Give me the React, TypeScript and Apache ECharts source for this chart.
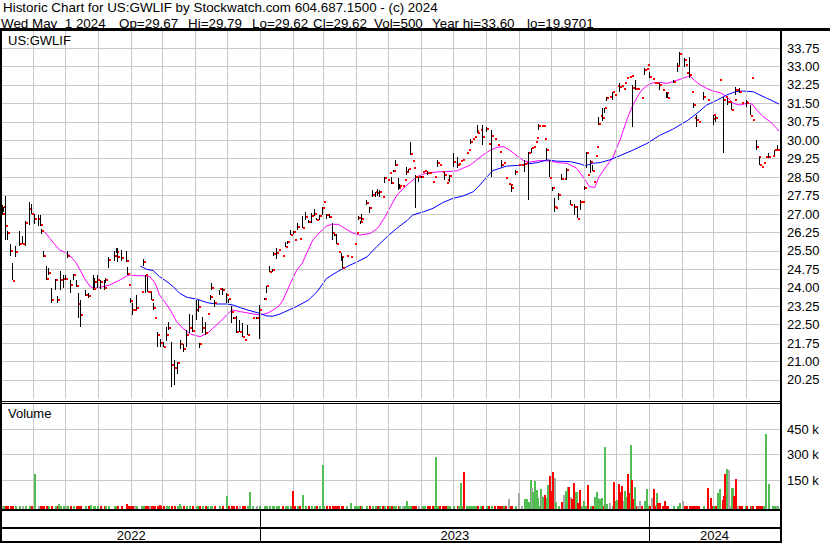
import React, { useEffect, useRef } from "react";
import * as echarts from "echarts";

// ---------- data ----------
const START_DATE = "2022-05-03"; // day 0 of the x scale
const END_DAY = 731; // 2024-05-03

const TITLE_LINE = "Historic Chart for US:GWLIF by Stockwatch.com 604.687.1500 - (c) 2024";
const QUOTE_FIELDS = [
  "Wed May\u00a0\u00a01 2024",
  "Op=29.67",
  "Hi=29.79",
  "Lo=29.62",
  "Cl=29.62",
  "Vol=500",
  "Year hi=33.60",
  "lo=19.9701",
];
const TICKER = "US:GWLIF";
const VOLUME_TITLE = "Volume";
const YEARS = ["2022", "2023", "2024"];
const YEAR_STARTS = ["2023-01-01", "2024-01-01"];
const MONTH_STARTS = [
  "2022-06-01", "2022-07-01", "2022-08-01", "2022-09-01", "2022-10-01", "2022-11-01", "2022-12-01",
  "2023-01-01", "2023-02-01", "2023-03-01", "2023-04-01", "2023-05-01", "2023-06-01", "2023-07-01",
  "2023-08-01", "2023-09-01", "2023-10-01", "2023-11-01", "2023-12-01", "2024-01-01", "2024-02-01",
  "2024-03-01", "2024-04-01",
];
const VOLUME_TICKS = [150, 300, 450]; // thousands of shares

// [day, high, low, close, volume (hundreds of shares)]
const ohlc: number[][] = [
  [1, 27.35, 26.95, 27.0, 9], [2, 27.3, 27.1, 27.3, 6], [4, 27.73, 25.94, 26.5, 12], [6, 26.3, 25.94, 26.24, 7],
  [8, 25.8, 25.3, 25.5, 10], [10, 25.0, 24.3, 24.29, 8], [13, 25.7, 25.27, 25.47, 11], [17, 26.3, 25.7, 25.8, 6],
  [20, 26.1, 25.8, 25.8, 9], [23, 26.7, 25.7, 26.62, 13], [26, 27.5, 26.55, 27.2, 8], [28, 27.4, 27.0, 27.0, 10],
  [31, 27.0, 26.6, 26.8, 7], [35, 26.95, 26.5, 26.8, 9], [37, 26.95, 26.5, 26.55, 12], [38, 26.4, 26.2, 26.3, 6],
  [39, 25.5, 25.25, 25.3, 10], [42, 24.9, 24.3, 24.35, 8], [44, 24.8, 24.5, 24.6, 11], [47, 23.98, 23.37, 23.5, 9],
  [51, 24.35, 23.9, 24.3, 7], [53, 23.65, 23.37, 23.5, 10], [55, 24.7, 23.9, 24.3, 12], [58, 24.5, 24.0, 24.35, 8],
  [60, 24.5, 24.3, 24.35, 6], [62, 25.5, 25.2, 25.3, 9], [65, 24.3, 23.78, 24.1, 11], [68, 24.55, 24.3, 24.5, 7],
  [70, 24.3, 24.05, 24.07, 10], [72, 23.8, 22.76, 23.34, 13], [74, 23.5, 22.42, 22.9, 8], [79, 23.9, 23.65, 23.7, 9],
  [82, 23.8, 23.6, 23.65, 6], [86, 24.5, 23.9, 23.95, 10], [87, 24.4, 24.0, 24.25, 8], [90, 24.5, 24.0, 24.3, 12],
  [93, 24.3, 23.95, 24.25, 7], [97, 24.3, 23.9, 24.0, 9], [98, 24.4, 24.2, 24.3, 11], [101, 25.25, 24.8, 25.13, 8],
  [106, 25.5, 25.1, 25.3, 10], [108, 25.6, 25.4, 25.47, 6], [109, 25.6, 25.05, 25.25, 9], [113, 25.55, 25.1, 25.2, 12],
  [117, 25.5, 25.05, 25.1, 8], [118, 24.85, 24.52, 24.58, 10], [119, 24.1, 24.1, 24.1, 7], [121, 23.6, 23.4, 23.45, 9],
  [123, 23.37, 22.9, 23.1, 11], [125, 23.1, 23.05, 23.1, 6], [127, 23.7, 23.1, 23.17, 10], [132, 23.84, 23.84, 23.84, 8],
  [133, 25.15, 24.88, 25.06, 12], [135, 24.5, 23.8, 24.5, 9], [137, 24.45, 23.84, 23.84, 7], [139, 23.84, 23.84, 23.84, 10],
  [141, 23.84, 23.5, 23.5, 8], [143, 23.37, 23.1, 23.17, 11], [144, 22.78, 22.78, 22.78, 6], [147, 22.2, 21.6, 22.08, 9],
  [149, 21.9, 21.6, 21.75, 12], [152, 21.8, 21.6, 21.6, 8], [155, 22.4, 21.85, 22.08, 10], [157, 22.6, 22.3, 22.38, 7],
  [160, 21.8, 19.97, 20.86, 13], [163, 21.05, 20.05, 20.73, 9], [165, 21.0, 20.5, 20.93, 8], [168, 21.88, 21.5, 21.7, 10],
  [171, 21.7, 21.4, 21.5, 6], [174, 22.3, 21.6, 22.1, 9], [177, 22.95, 22.15, 22.35, 11], [179, 22.9, 22.2, 22.25, 8],
  [183, 23.5, 22.7, 23.1, 10], [185, 23.5, 23.0, 23.2, 7], [186, 21.75, 21.55, 21.7, 9], [189, 22.8, 22.15, 22.35, 12],
  [192, 22.6, 22.1, 22.15, 8], [194, 22.95, 22.95, 22.95, 6], [196, 23.7, 23.5, 23.63, 10], [197, 24.18, 23.9, 23.98, 9],
  [200, 23.5, 23.23, 23.37, 11], [205, 23.9, 23.7, 23.94, 7], [208, 23.98, 23.7, 23.9, 10], [211, 23.78, 23.37, 23.7, 8],
  [213, 23.56, 23.37, 23.53, 9], [216, 23.25, 22.55, 23.0, 12], [218, 22.8, 22.75, 22.76, 6], [221, 22.85, 22.15, 22.2, 10],
  [224, 22.7, 22.2, 22.2, 8], [226, 22.55, 22.0, 22.0, 11], [228, 21.88, 21.88, 21.88, 7], [231, 22.5, 22.08, 22.08, 9],
  [236, 22.78, 22.78, 22.78, 8], [240, 22.8, 22.75, 22.78, 10], [242, 23.3, 21.9, 23.1, 12], [247, 23.6, 23.5, 23.53, 7],
  [249, 24.07, 23.77, 24.07, 9], [252, 24.9, 24.66, 24.65, 11], [255, 24.75, 24.65, 24.72, 8], [256, 25.45, 25.3, 25.37, 10],
  [258, 25.6, 25.15, 25.4, 6], [260, 25.55, 25.5, 25.53, 9], [264, 25.3, 25.3, 25.3, 12], [267, 25.85, 25.65, 25.67, 8],
  [269, 25.9, 25.8, 25.85, 10], [272, 26.35, 26.14, 26.14, 7], [274, 26.3, 26.2, 26.28, 9], [275, 25.95, 25.9, 25.95, 11],
  [278, 26.62, 26.35, 26.48, 8], [280, 26.0, 25.95, 25.97, 10], [283, 26.9, 26.42, 26.44, 6], [286, 27.1, 26.75, 26.86, 9],
  [288, 26.75, 26.65, 26.69, 12], [291, 27.05, 26.65, 26.9, 8], [294, 27.2, 26.9, 27.0, 10], [296, 26.85, 26.75, 26.75, 7],
  [299, 26.96, 26.76, 26.9, 9], [302, 27.3, 26.95, 27.26, 11], [303, 27.5, 27.45, 27.5, 8], [305, 26.98, 26.8, 26.96, 10],
  [308, 27.0, 26.85, 26.86, 6], [311, 26.62, 25.95, 26.21, 9], [313, 26.2, 26.1, 26.15, 12], [315, 26.2, 25.8, 25.8, 8],
  [317, 25.5, 25.47, 25.47, 10], [319, 25.4, 25.1, 25.26, 7], [320, 25.25, 24.8, 24.79, 9], [324, 25.3, 25.25, 25.3, 11],
  [328, 25.3, 25.25, 25.26, 8], [332, 25.8, 25.75, 25.78, 10], [334, 26.21, 26.2, 26.21, 6], [335, 26.9, 26.75, 26.82, 9],
  [337, 26.7, 26.6, 26.66, 12], [338, 27.0, 26.7, 26.8, 8], [343, 27.55, 27.37, 27.43, 10], [346, 27.3, 27.03, 27.23, 7],
  [349, 27.97, 27.7, 27.77, 9], [351, 27.9, 27.7, 27.9, 11], [353, 28.0, 27.75, 27.84, 8], [355, 27.97, 27.7, 27.9, 10],
  [358, 27.75, 27.7, 27.7, 6], [360, 28.52, 28.25, 28.45, 9], [363, 28.4, 28.35, 28.38, 12], [365, 28.65, 28.65, 28.65, 8],
  [366, 28.52, 28.2, 28.25, 10], [368, 28.8, 28.7, 28.75, 7], [370, 29.2, 28.95, 28.99, 9], [373, 28.45, 27.97, 28.04, 11],
  [374, 28.2, 28.0, 28.14, 8], [377, 28.14, 28.14, 28.14, 10], [379, 28.38, 28.38, 28.38, 6], [381, 28.9, 28.6, 28.72, 9],
  [382, 28.85, 28.7, 28.85, 12], [384, 29.94, 29.4, 29.43, 8], [386, 29.15, 29.15, 29.15, 10], [387, 28.86, 28.86, 28.86, 7],
  [389, 28.59, 27.23, 28.49, 9], [392, 28.52, 28.3, 28.49, 11], [395, 28.55, 28.45, 28.49, 8], [396, 28.72, 28.72, 28.72, 10],
  [397, 28.76, 28.76, 28.76, 6], [400, 28.75, 28.58, 28.68, 9], [402, 28.65, 28.65, 28.65, 12], [405, 28.31, 28.31, 28.31, 8],
  [407, 28.52, 28.52, 28.52, 10], [410, 29.2, 28.9, 29.08, 7], [412, 28.99, 28.99, 28.99, 9], [414, 28.72, 28.72, 28.72, 11],
  [416, 28.72, 28.38, 28.59, 8], [418, 28.25, 28.25, 28.25, 10], [419, 28.38, 28.38, 28.38, 6], [421, 28.6, 28.32, 28.55, 9],
  [425, 29.47, 28.93, 29.13, 12], [428, 29.3, 28.86, 28.99, 8], [429, 29.03, 29.03, 29.03, 10], [431, 29.17, 29.17, 29.17, 7],
  [433, 29.2, 29.2, 29.2, 9], [437, 29.47, 29.47, 29.47, 11], [439, 29.6, 29.6, 29.6, 8], [441, 30.03, 29.83, 29.94, 10],
  [443, 30.03, 30.03, 30.03, 6], [444, 30.12, 30.12, 30.12, 9], [446, 30.39, 30.39, 30.39, 12], [447, 30.62, 30.28, 30.28, 8],
  [450, 30.42, 30.42, 30.42, 10], [452, 30.62, 29.8, 30.14, 7], [456, 30.55, 30.35, 30.45, 9], [458, 29.85, 29.85, 29.85, 11],
  [460, 30.4, 28.52, 30.17, 8], [463, 30.04, 30.04, 30.04, 10], [466, 29.8, 29.8, 29.8, 6], [468, 29.53, 29.53, 29.53, 9],
  [470, 29.2, 28.93, 28.99, 12], [472, 29.08, 29.08, 29.08, 8], [474, 28.45, 28.45, 28.45, 10], [476, 28.2, 28.2, 28.2, 7],
  [478, 28.17, 28.17, 28.17, 9], [479, 28.17, 27.91, 28.04, 11], [483, 28.79, 28.58, 28.72, 8], [486, 28.99, 28.99, 28.99, 10],
  [489, 28.99, 28.99, 28.99, 6], [491, 29.2, 28.72, 29.02, 9], [493, 29.08, 29.08, 29.08, 12], [495, 29.53, 27.57, 29.47, 8],
  [498, 29.67, 29.47, 29.67, 10], [500, 29.74, 29.74, 29.74, 7], [502, 29.94, 29.94, 29.94, 9], [503, 30.08, 30.08, 30.08, 11],
  [505, 30.65, 30.4, 30.59, 8], [507, 30.59, 30.59, 30.59, 10], [509, 30.59, 30.59, 30.59, 6], [510, 30.04, 30.04, 30.04, 9],
  [512, 29.67, 29.2, 29.6, 12], [515, 29.2, 28.5, 28.48, 8], [518, 28.1, 27.95, 28.04, 10], [520, 27.64, 27.1, 27.3, 7],
  [521, 27.3, 27.26, 27.26, 9], [523, 27.84, 27.57, 27.77, 11], [526, 28.62, 28.38, 28.41, 8], [529, 28.41, 28.41, 28.41, 10],
  [531, 28.86, 28.38, 28.79, 6], [535, 27.57, 27.36, 27.36, 9], [538, 27.4, 26.96, 27.3, 12], [539, 27.3, 27.25, 27.3, 8],
  [541, 27.3, 26.82, 26.8, 10], [544, 27.57, 27.16, 27.5, 7], [546, 27.5, 27.5, 27.5, 9], [548, 28.14, 27.98, 28.04, 11],
  [550, 29.53, 28.86, 29.47, 8], [551, 28.6, 28.6, 28.6, 10], [553, 29.2, 28.65, 29.13, 6], [555, 29.0, 28.76, 28.76, 9],
  [556, 28.31, 28.31, 28.31, 12], [558, 29.36, 29.36, 29.36, 8], [559, 29.74, 29.74, 29.74, 10], [561, 30.96, 30.62, 30.66, 7],
  [563, 30.98, 30.98, 30.98, 9], [565, 31.3, 30.8, 30.89, 11], [567, 31.3, 31.1, 31.3, 8], [568, 31.77, 31.6, 31.7, 10],
  [571, 31.77, 31.77, 31.77, 6], [574, 31.97, 31.63, 31.97, 9], [576, 31.84, 31.84, 31.84, 12], [579, 32.2, 32.2, 32.2, 8],
  [581, 32.31, 31.97, 32.15, 10], [583, 32.2, 32.2, 32.2, 7], [584, 32.1, 32.1, 32.1, 9], [585, 32.31, 32.31, 32.31, 11],
  [587, 32.52, 32.52, 32.52, 8], [590, 32.58, 32.58, 32.58, 10], [592, 32.63, 32.63, 32.63, 6], [593, 32.25, 30.55, 32.11, 9],
  [596, 32.45, 32.04, 32.07, 12], [598, 32.07, 32.07, 32.07, 8], [601, 31.7, 31.7, 31.7, 10], [604, 32.92, 32.65, 32.86, 7],
  [606, 32.88, 32.88, 32.88, 9], [607, 33.06, 33.06, 33.06, 11], [609, 32.79, 32.52, 32.58, 8], [612, 32.48, 32.48, 32.48, 10],
  [614, 32.31, 32.31, 32.31, 6], [615, 32.31, 32.31, 32.31, 9], [618, 32.31, 32.04, 32.25, 12], [621, 32.04, 32.04, 32.04, 8],
  [625, 31.97, 31.7, 31.9, 10], [626, 31.9, 31.7, 31.7, 7], [631, 32.45, 32.31, 32.38, 9], [635, 33.13, 32.79, 33.0, 11],
  [637, 33.6, 33.06, 33.5, 8], [642, 33.33, 32.99, 33.26, 10], [643, 33.06, 33.06, 33.06, 6], [644, 32.72, 32.72, 32.72, 9],
  [646, 33.4, 32.52, 32.65, 12], [648, 31.97, 31.97, 31.97, 8], [650, 31.5, 31.3, 31.43, 10], [651, 30.89, 30.89, 30.89, 7],
  [653, 31.03, 30.55, 30.82, 9], [655, 30.75, 30.75, 30.75, 11], [660, 31.97, 31.63, 31.77, 8], [663, 31.63, 31.63, 31.63, 10],
  [668, 30.86, 30.86, 30.86, 6], [669, 31.03, 30.62, 31.03, 9], [671, 31.0, 30.75, 30.9, 12], [675, 32.45, 32.45, 32.45, 8],
  [678, 31.77, 29.47, 31.63, 10], [680, 31.77, 31.77, 31.77, 7], [682, 31.7, 31.43, 31.57, 9], [684, 31.57, 31.57, 31.57, 11],
  [686, 31.5, 31.23, 31.23, 8], [689, 31.63, 31.63, 31.63, 10], [690, 32.18, 31.84, 32.04, 6], [692, 32.04, 32.04, 32.04, 9],
  [693, 32.11, 31.9, 31.97, 12], [695, 31.5, 31.5, 31.5, 8], [699, 31.57, 31.57, 31.57, 10], [700, 31.63, 31.37, 31.5, 7],
  [704, 31.43, 31.03, 31.0, 9], [705, 32.52, 32.52, 32.52, 11], [706, 30.82, 30.82, 30.82, 8], [709, 30.0, 29.6, 29.74, 10],
  [711, 29.3, 29.3, 29.3, 6], [712, 29.33, 29.0, 29.0, 9], [714, 28.92, 28.92, 28.92, 12], [716, 29.06, 29.06, 29.06, 8],
  [718, 29.3, 29.3, 29.3, 10], [721, 29.47, 29.26, 29.3, 7], [724, 29.36, 29.36, 29.36, 9], [726, 29.6, 29.4, 29.6, 11],
  [728, 29.6, 29.6, 29.6, 8], [729, 29.79, 29.62, 29.62, 5],
];

// magenta short moving average [day, value]
const maShort: number[][] = [
  [40, 26.28], [45, 26.01], [50, 25.74], [54, 25.54], [61, 25.4], [64, 25.29], [69, 25.06], [73, 24.75], [78, 24.34],
  [83, 24.04], [87, 23.98], [92, 24.02], [101, 24.11], [111, 24.32], [116, 24.45], [120, 24.52], [127, 24.49], [132, 24.49],
  [139, 24.45], [144, 24.18], [148, 23.71], [155, 23.3], [160, 22.96], [164, 22.62], [170, 22.35], [177, 22.12], [186, 22.01],
  [193, 22.15], [198, 22.35], [205, 22.62], [211, 22.89], [216, 23.1], [224, 23.03], [233, 22.96], [242, 22.89], [249, 22.96],
  [255, 23.1], [261, 23.3], [264, 23.5], [271, 24.18], [277, 24.72], [282, 24.99], [287, 25.47], [292, 25.94], [299, 26.28],
  [305, 26.51], [310, 26.58], [316, 26.58], [322, 26.42], [329, 26.24], [336, 26.14], [346, 26.21], [353, 26.42], [360, 26.89],
  [365, 27.3], [371, 27.77], [377, 28.04], [383, 28.27], [390, 28.52], [396, 28.62], [402, 28.68], [412, 28.72], [418, 28.72],
  [428, 28.76], [433, 28.86], [440, 28.99], [446, 29.2], [452, 29.4], [459, 29.6], [465, 29.71], [471, 29.74], [477, 29.6],
  [484, 29.36], [490, 29.17], [496, 29.11], [506, 29.18], [515, 29.15], [524, 29.08], [531, 29.06], [540, 28.86], [548, 28.38],
  [552, 28.11], [557, 28.08], [561, 28.52], [568, 28.95], [574, 29.3], [581, 30.05], [587, 30.82], [592, 31.36], [597, 31.77],
  [601, 32.04], [607, 32.25], [612, 32.34], [618, 32.35], [625, 32.31], [630, 32.38], [637, 32.48], [644, 32.58], [646, 32.63],
  [651, 32.42], [656, 32.25], [662, 32.11], [668, 32.0], [675, 31.93], [681, 31.77], [687, 31.5], [693, 31.43], [700, 31.5],
  [705, 31.47], [709, 31.23], [715, 30.96], [722, 30.75], [728, 30.48], [730, 30.37],
];

// blue long moving average [day, value]
const maLong: number[][] = [
  [130, 24.88], [136, 24.75], [142, 24.7], [148, 24.45], [155, 24.25], [161, 24.04], [167, 23.77], [174, 23.61], [183, 23.54],
  [193, 23.39], [202, 23.34], [211, 23.34], [217, 23.3], [224, 23.19], [233, 23.07], [242, 22.96], [249, 22.85], [255, 22.85],
  [261, 22.93], [275, 23.2], [288, 23.5], [296, 23.84], [305, 24.38], [315, 24.65], [324, 24.86], [334, 25.06], [343, 25.26],
  [352, 25.67], [362, 26.08], [371, 26.42], [381, 26.75], [386, 26.96], [396, 27.09], [405, 27.23], [414, 27.46], [424, 27.64],
  [433, 27.73], [443, 27.91], [449, 28.18], [456, 28.52], [461, 28.76], [468, 28.86], [474, 28.95], [484, 28.97], [493, 29.03],
  [503, 29.09], [512, 29.2], [521, 29.15], [534, 29.13], [543, 29.04], [548, 28.96], [555, 29.06], [562, 29.09], [571, 29.2],
  [581, 29.38], [593, 29.6], [606, 29.87], [618, 30.2], [630, 30.44], [644, 30.8], [653, 31.09], [662, 31.43], [672, 31.63],
  [681, 31.84], [689, 31.97], [696, 32.0], [706, 31.97], [712, 31.84], [719, 31.7], [724, 31.6], [730, 31.47],
];

// notable volume bars [day, volume (thousands), direction: 1 up, -1 down, 0 unchanged]
const bigVolume: number[][] = [
  [31, 190, 1], [54, 12, 1], [84, 8, 1], [117, 12, -1], [148, 8, -1], [167, 12, 1], [211, 58, 1], [233, 82, 1],
  [273, 88, -1], [283, 64, 1], [302, 240, 1], [328, 18, 1], [381, 29, 1], [408, 287, 1], [431, 134, 1], [434, 199, -1],
  [476, 41, 0], [486, 76, 0], [491, 41, 1], [493, 41, 1], [495, 25, 1], [497, 152, 1], [498, 107, 0], [499, 84, 1],
  [501, 146, 1], [503, 94, 1], [504, 49, 1], [506, 99, 1], [507, 58, 0], [508, 55, 1], [510, 64, -1], [512, 45, 1],
  [513, 123, 1], [515, 175, -1], [517, 88, -1], [518, 199, -1], [520, 164, 0], [521, 23, 1], [526, 23, -1], [528, 64, 0],
  [530, 88, 1], [532, 109, 1], [533, 109, -1], [535, 53, 0], [536, 41, -1], [537, 134, -1], [539, 84, 1], [540, 80, 1],
  [541, 16, -1], [543, 94, -1], [547, 29, 1], [551, 123, -1], [557, 51, 1], [559, 82, 1], [560, 49, 1], [562, 41, 1],
  [564, 49, 1], [567, 345, 1], [568, 10, 1], [571, 16, 0], [575, 140, -1], [577, 29, 1], [578, 35, 1], [580, 129, -1],
  [581, 84, -1], [583, 117, -1], [584, 29, 0], [585, 88, 1], [586, 55, 1], [588, 187, -1], [589, 76, -1], [591, 357, 1],
  [592, 152, -1], [593, 41, -1], [595, 111, 1], [599, 29, 0], [604, 29, 1], [606, 99, 1], [611, 45, 0], [613, 99, -1],
  [615, 76, 1], [616, 20, -1], [618, 18, -1], [623, 29, -1], [637, 18, 1], [640, 29, 0], [663, 105, -1], [666, 47, -1],
  [673, 76, 1], [675, 99, 1], [677, 35, -1], [678, 58, -1], [679, 187, -1], [681, 214, 1], [683, 210, 0], [686, 105, 1],
  [687, 105, 1], [688, 58, -1], [690, 158, -1], [718, 421, 1], [721, 129, 1],
];

// ---------- styles ----------
const FONT = '"Liberation Sans", Arial, sans-serif';
const GRID_GRAY = "#c8c8c8";
const UP_GREEN = "#52bd52";
const DOWN_RED = "#ff0000";
const FLAT_GRAY = "#a8a8a8";

function buildOption() {
  const startMs = Date.parse(START_DATE + "T00:00:00Z");
  const dayOf = (s: string) => Math.round((Date.parse(s + "T00:00:00Z") - startMs) / 86400000);
  const monthLines = MONTH_STARTS.map((s) => ({ xAxis: dayOf(s) }));
  const yearDays = YEAR_STARTS.map(dayOf);
  const yearBounds = [0, ...yearDays, END_DAY];
  const yearAreas = YEARS.map((y, i) => [
    { name: y, xAxis: yearBounds[i] },
    { xAxis: yearBounds[i + 1] },
  ]);

  // daily volumes (hundreds of shares -> thousands), coloured by close change
  const baseVolume = ohlc.map((r, i) => [
    r[0],
    r[4] / 10,
    i === 0 ? 0 : Math.sign(r[3] - ohlc[i - 1][3]),
  ]);
  const volumeData = [...baseVolume, ...bigVolume];

  const gridLineMark = (data: any[]) => ({
    silent: true,
    symbol: ["none", "none"],
    label: { show: false },
    lineStyle: { color: GRID_GRAY, type: "solid", width: 1 },
    emphasis: { disabled: true },
    data,
  });

  const textEl = (text: string, x: number, y: number, size = 13) => ({
    type: "text",
    x,
    y,
    z: 100,
    silent: true,
    style: { text, fill: "#000", font: `${size}px ${FONT}`, verticalAlign: "middle", align: "left" },
  });
  const bar = (x: number, y: number, w: number, h: number) => ({
    type: "rect",
    z: 100,
    silent: true,
    shape: { x, y, width: w, height: h },
    style: { fill: "#000" },
  });

  const QUOTE_X = [1, 119, 188, 252, 313, 374, 432, 527];

  return {
    animation: false,
    backgroundColor: "#ffffff",
    textStyle: { fontFamily: FONT },
    grid: [
      { left: 2, top: 29.56, width: 778, height: 368.88 },
      { left: 2, top: 403.4, width: 778, height: 105.6 },
      { left: 2, top: 511, width: 778, height: 32 },
    ],
    xAxis: [
      { gridIndex: 0, type: "value", min: 0, max: END_DAY, show: false },
      { gridIndex: 1, type: "value", min: 0, max: END_DAY, show: false },
      { gridIndex: 2, type: "value", min: 0, max: END_DAY, show: false },
    ],
    yAxis: [
      {
        gridIndex: 0,
        type: "value",
        position: "right",
        min: 19.5,
        max: 34.5,
        interval: 0.75,
        axisLine: { show: false },
        axisTick: { show: false },
        axisLabel: {
          showMinLabel: false,
          showMaxLabel: false,
          margin: 7,
          color: "#000",
          fontSize: 13,
          fontFamily: FONT,
          formatter: (v: number) => v.toFixed(2),
        },
        splitLine: { show: true, showMinLine: false, showMaxLine: false, lineStyle: { color: GRID_GRAY, width: 1 } },
      },
      {
        gridIndex: 1,
        type: "value",
        position: "right",
        min: -17.5,
        max: 600,
        axisLine: { show: false },
        axisTick: { show: false, customValues: VOLUME_TICKS },
        axisLabel: {
          customValues: VOLUME_TICKS,
          margin: 7,
          color: "#000",
          fontSize: 13,
          fontFamily: FONT,
          formatter: (v: number) => `${v} k`,
        },
        splitLine: { show: true, lineStyle: { color: GRID_GRAY, width: 1 } },
      },
      { gridIndex: 2, type: "value", min: 0, max: 1, show: false },
    ],
    series: [
      {
        type: "line",
        xAxisIndex: 0,
        yAxisIndex: 0,
        data: [],
        z: 1,
        silent: true,
        markLine: gridLineMark(monthLines),
      },
      {
        type: "line",
        xAxisIndex: 1,
        yAxisIndex: 1,
        data: [],
        z: 1,
        silent: true,
        markLine: gridLineMark(monthLines),
      },
      {
        type: "line",
        xAxisIndex: 2,
        yAxisIndex: 2,
        data: [],
        z: 1,
        silent: true,
        markLine: {
          silent: true,
          symbol: ["none", "none"],
          label: { show: false },
          lineStyle: { color: "#000", type: "solid", width: 1 },
          data: yearDays.map((d) => ({ xAxis: d })),
        },
        markArea: {
          silent: true,
          itemStyle: { color: "rgba(0,0,0,0)" },
          label: { show: true, position: "inside", offset: [0, 8], color: "#000", fontSize: 13, fontFamily: FONT },
          data: yearAreas,
        },
      },
      {
        type: "line",
        name: "MA short",
        xAxisIndex: 0,
        yAxisIndex: 0,
        data: maShort,
        showSymbol: false,
        z: 3,
        lineStyle: { color: "#ff00ff", width: 1 },
      },
      {
        type: "line",
        name: "MA long",
        xAxisIndex: 0,
        yAxisIndex: 0,
        data: maLong,
        showSymbol: false,
        z: 3,
        lineStyle: { color: "#0000ff", width: 1 },
      },
      {
        type: "custom",
        name: "OHLC",
        xAxisIndex: 0,
        yAxisIndex: 0,
        z: 5,
        data: ohlc.map((r) => [r[0], r[1], r[2], r[3]]),
        encode: { x: 0, y: [1, 2, 3] },
        renderItem: (_p: any, api: any) => {
          const d = api.value(0);
          const top = api.coord([d, api.value(1)]);
          const bot = api.coord([d, api.value(2)]);
          const cl = api.coord([d, api.value(3)]);
          const x = Math.round(top[0]);
          const y1 = Math.round(top[1]);
          const y2 = Math.round(bot[1]);
          const children: any[] = [];
          if (y2 - y1 >= 2) {
            children.push({ type: "rect", shape: { x: x - 1, y: y1, width: 1, height: y2 - y1 }, style: { fill: "#000" } });
          }
          children.push({
            type: "rect",
            shape: { x: x, y: Math.round(cl[1]) - 1, width: 2, height: 2 },
            style: { fill: DOWN_RED },
          });
          return { type: "group", children };
        },
      },
      {
        type: "custom",
        name: "Volume",
        xAxisIndex: 1,
        yAxisIndex: 1,
        z: 5,
        data: volumeData,
        encode: { x: 0, y: 1 },
        renderItem: (params: any, api: any) => {
          const d = api.value(0);
          const v = api.value(1);
          const dir = api.value(2);
          const p = api.coord([d, v]);
          const floor = Math.round(params.coordSys.y + params.coordSys.height);
          const x = Math.round(p[0]);
          const h = Math.max(1, floor - Math.round(p[1]));
          return {
            type: "rect",
            shape: { x: x - 1, y: floor - h, width: 2, height: h },
            style: { fill: dir > 0 ? UP_GREEN : dir < 0 ? DOWN_RED : FLAT_GRAY },
          };
        },
      },
    ],
    graphic: [
      bar(0, 28, 830, 3),
      bar(0, 28, 2, 515),
      bar(780, 28, 2, 515),
      bar(0, 401, 780, 1),
      bar(0, 403, 780, 1),
      bar(0, 509, 782, 2),
      bar(0, 527, 782, 2),
      bar(0, 541, 782, 2),
      textEl(TITLE_LINE, 3, 7.5, 13.4),
      ...QUOTE_FIELDS.map((t, i) => textEl(t, QUOTE_X[i], 23, 13.4)),
      textEl(TICKER, 8, 40.5),
      textEl(VOLUME_TITLE, 8, 413.5),
    ],
  };
}

export default function App() {
  const ref = useRef<HTMLDivElement>(null);
  useEffect(() => {
    if (!ref.current) return;
    const chart = echarts.init(ref.current, null, { renderer: "svg" });
    chart.setOption(buildOption() as any);
    return () => chart.dispose();
  }, []);
  return (
    <div
      ref={ref}
      style={{ position: "absolute", left: 0, top: 0, width: 830, height: 543, background: "#fff" }}
    />
  );
}
